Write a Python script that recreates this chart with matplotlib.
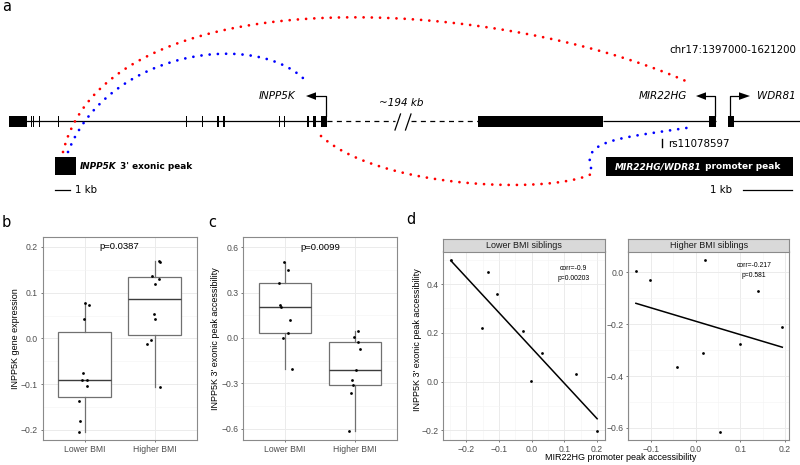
import numpy as np
import matplotlib
matplotlib.use("Agg")
import matplotlib.pyplot as plt
from matplotlib.patches import Rectangle, Polygon
from matplotlib.ticker import FuncFormatter, FixedLocator

# ---------------- data ----------------
groups = ["Lower BMI", "Higher BMI"]

# panel b: INPP5K gene expression
expr_lower = [0.0765, 0.072, 0.043, -0.0765, -0.091, -0.091, -0.103, -0.137, -0.180, -0.204]
expr_lower_jit = [0.007, 0.055, -0.007, -0.031, -0.045, 0.031, 0.026, -0.088, -0.064, -0.088]
expr_higher = [0.170, 0.166, 0.137, 0.129, 0.120, 0.054, 0.043, -0.003, -0.0125, -0.106]
expr_higher_jit = [0.064, 0.079, -0.040, 0.055, -0.002, -0.017, -0.002, -0.050, -0.112, 0.079]
p_expr = "p=0.0387"

# panel c: INPP5K 3' exonic peak accessibility
acc_lower = [0.499, 0.448, 0.360, 0.218, 0.207, 0.119, 0.031, 0.002, -0.205]
acc_lower_jit = [-0.019, 0.048, -0.091, -0.067, -0.057, 0.067, 0.043, -0.029, 0.096]
acc_higher = [0.0485, 0.0066, -0.029, -0.073, -0.210, -0.276, -0.311, -0.364, -0.615]
acc_higher_jit = [0.043, -0.019, 0.048, 0.077, 0.014, -0.043, -0.024, -0.062, -0.086]
p_acc = "p=0.0099"

# panel d: MIR22HG promoter accessibility (paired with acc_lower / acc_higher)
prom_lower = [-0.247, -0.133, -0.106, -0.153, -0.027, 0.032, 0.134, -0.002, 0.200]
prom_higher = [0.021, -0.134, -0.102, 0.139, 0.194, 0.100, 0.017, -0.042, 0.054]
facet_titles = ["Lower BMI siblings", "Higher BMI siblings"]
corr_labels = [("corr=-0.9", "p=0.00203"), ("corr=-0.217", "p=0.581")]

# panel a: schematic gene model (pixel layout units)
left_exons = [(9, 27), (30.5, 31.7), (33, 34.2), (38.8, 40), (57.5, 59), (185.5, 186.7),
              (201.5, 202.7), (217, 219.2), (223, 225), (278.5, 279.7), (283.5, 284.7),
              (306.5, 309), (313, 316), (321, 327)]
right_exons = [(478, 603), (709, 716), (728, 734)]
solid_segments = [(9, 327), (603, 716), (728, 800)]
dashed_segments = [(327, 395), (411, 478)]
red_top = [(63, 152), (108, -28), (500, -2), (688, 82)]
blue_top = [(68, 152), (108, 50), (255, 30), (305, 80)]
red_bottom = [(321, 136), (380, 190), (560, 195), (595, 172)]
blue_bottom = [(591, 168), (582, 140), (620, 138), (693, 127)]

# ---------------- figure ----------------
W, H = 800, 465
fig = plt.figure(figsize=(8, 4.65), dpi=100)

def rect(l, t, r, b):
    return [l / W, 1 - b / H, (r - l) / W, (b - t) / H]

axa = fig.add_axes([0, 0, 1, 1])
axa.set_xlim(0, W)
axa.set_ylim(H, 0)
axa.axis("off")

FA = "DejaVu Sans"
FB = "Liberation Sans"
MINUS = "\u2212"

# gene line
LY = 121
for a, b in solid_segments:
    axa.plot([a, b], [LY, LY], color="black", lw=0.9, solid_capstyle="butt", zorder=2)
for a, b in dashed_segments:
    axa.plot([a, b], [LY, LY], color="black", lw=0.9, dashes=(4, 3.5), zorder=2)
axa.plot([395, 400.5], [130, 114], color="black", lw=0.9, zorder=2)
axa.plot([405.5, 411], [130, 114], color="black", lw=0.9, zorder=2)
for a, b in left_exons + right_exons:
    axa.add_patch(Rectangle((a, 116), b - a, 10.5, color="black", lw=0, zorder=3))

# TSS arrows
axa.plot([326, 326, 315], [116, 96, 96], color="black", lw=0.9, zorder=3)
axa.add_patch(Polygon([(306, 96), (316, 92.3), (316, 99.9)], closed=True, color="black", lw=0))
axa.plot([715, 715, 705], [116, 96, 96], color="black", lw=0.9, zorder=3)
axa.add_patch(Polygon([(696, 96), (706, 92.3), (706, 99.9)], closed=True, color="black", lw=0))
axa.plot([730, 730, 740], [116, 96, 96], color="black", lw=0.9, zorder=3)
axa.add_patch(Polygon([(750, 96), (739, 92.3), (739, 99.9)], closed=True, color="black", lw=0))

axa.text(295, 96, "INPP5K", family=FA, style="italic", fontsize=7.5, ha="right", va="center")
axa.text(687, 96, "MIR22HG", family=FA, style="italic", fontsize=7.5, ha="right", va="center")
axa.text(757, 96, "WDR81", family=FA, style="italic", fontsize=7.5, ha="left", va="center")
axa.text(401, 103, "~194 kb", family=FA, style="italic", fontsize=7.5, ha="center", va="center")
axa.text(669, 50, "chr17:1397000-1621200", family=FA, fontsize=7.4, ha="left", va="center")

# SNP
axa.plot([662, 662], [139.5, 147], color="black", lw=1.0)
axa.text(668, 143.5, "rs11078597", family=FA, fontsize=7.4, ha="left", va="center")

# peaks
axa.add_patch(Rectangle((55, 157.3), 20.7, 17.7, color="black", lw=0))
t1 = axa.text(80, 166.5, "INPP5K", family=FA, weight="bold", style="italic", fontsize=6.4,
              ha="left", va="center")
axa.annotate(" 3' exonic peak", xy=(1, 0), xycoords=t1, family=FA, weight="bold",
             fontsize=6.4, ha="left", va="bottom")
axa.add_patch(Rectangle((606, 157.3), 187, 18.7, color="black", lw=0))
t2 = axa.text(615, 166.8, "MIR22HG/WDR81", family=FA, weight="bold", style="italic",
              fontsize=6.5, ha="left", va="center", color="white")
axa.annotate(" promoter peak", xy=(1, 0), xycoords=t2, family=FA, weight="bold",
             fontsize=6.5, ha="left", va="bottom", color="white")

# scale bars
axa.plot([55, 69.5], [190, 190], color="black", lw=0.9)
axa.text(75, 190, "1 kb", family=FA, fontsize=7.4, ha="left", va="center")
axa.plot([742.7, 791.7], [190, 190], color="black", lw=0.9)
axa.text(732, 190, "1 kb", family=FA, fontsize=7.4, ha="right", va="center")

# arcs
def bezier(p, n=600):
    t = np.linspace(0, 1, n)[:, None]
    p = np.asarray(p, float)
    return (1 - t) ** 3 * p[0] + 3 * (1 - t) ** 2 * t * p[1] + 3 * (1 - t) * t ** 2 * p[2] + t ** 3 * p[3]

for pts, col in [(red_top, "#ff0000"), (blue_top, "#0000ff"), (red_bottom, "#ff0000"), (blue_bottom, "#0000ff")]:
    c = bezier(pts)
    ln, = axa.plot(c[:, 0], c[:, 1], color=col, lw=2.0, zorder=5)
    ln.set_dashes((0.01, 2.95))
    ln.set_dash_capstyle("round")

# panel letters
axa.text(2, 11, "a", family=FA, fontsize=10.5, ha="left", va="baseline")
axa.text(2, 227, "b", family=FA, fontsize=10.5, ha="left", va="baseline")
axa.text(208, 227, "c", family=FA, fontsize=10.5, ha="left", va="baseline")
axa.text(406, 224, "d", family=FA, fontsize=10.5, ha="left", va="baseline")

# ---------------- ggplot-like axes ----------------
TICKFS = 6.2
TITLEFS = 6.5
GRID_MAJ = "#EBEBEB"
GRID_MIN = "#F3F3F3"
SPINE = "#8a8a8a"

def fmt1(v, pos=None):
    s = f"{v:.1f}"
    if s == "-0.0":
        s = "0.0"
    return s.replace("-", MINUS)

def style_axes(ax, xmaj, xmin, ymaj, ymin):
    ax.set_facecolor("white")
    for s in ax.spines.values():
        s.set_color(SPINE)
        s.set_linewidth(0.8)
    ax.xaxis.set_major_locator(FixedLocator(xmaj))
    ax.yaxis.set_major_locator(FixedLocator(ymaj))
    ax.xaxis.set_minor_locator(FixedLocator(xmin))
    ax.yaxis.set_minor_locator(FixedLocator(ymin))
    ax.grid(True, which="major", color=GRID_MAJ, lw=0.7, zorder=0)
    ax.grid(True, which="minor", color=GRID_MIN, lw=0.4, zorder=0)
    ax.set_axisbelow(True)
    ax.tick_params(which="major", length=1.6, width=0.5, color="#444444", pad=1.8,
                   labelsize=TICKFS, labelcolor="#4D4D4D")
    ax.tick_params(which="minor", length=0)
    for lab in ax.get_xticklabels() + ax.get_yticklabels():
        lab.set_family(FB)

def box_panel(ax, lower, lower_j, higher, higher_j, ylim, yt, ymn, ptxt, ptxt_y):
    ax.boxplot([lower, higher], positions=[1, 2], widths=0.75, whis=1.5,
               showfliers=False, showcaps=False, patch_artist=True, zorder=2,
               boxprops=dict(facecolor="white", edgecolor="#707070", lw=0.9),
               medianprops=dict(color="#3c3c3c", lw=1.0),
               whiskerprops=dict(color="#707070", lw=0.9))
    ax.scatter(1 + np.asarray(lower_j), lower, s=4, color="black", lw=0, zorder=4)
    ax.scatter(2 + np.asarray(higher_j), higher, s=4, color="black", lw=0, zorder=4)
    ax.set_xlim(0.4, 2.6)
    ax.set_ylim(*ylim)
    style_axes(ax, [1, 2], [], yt, ymn)
    ax.set_xticks([1, 2])
    ax.set_xticklabels(groups, family=FB)
    ax.yaxis.set_major_formatter(FuncFormatter(fmt1))
    for lab in ax.get_yticklabels():
        lab.set_family(FB)
    ax.text(1.5, ptxt_y, ptxt, family=FB, fontsize=6.8, ha="center", va="center", color="black")

axb = fig.add_axes(rect(42.7, 237.3, 196.7, 440))
box_panel(axb, expr_lower, expr_lower_jit, expr_higher, expr_higher_jit,
          (-0.222, 0.221), [-0.2, -0.1, 0.0, 0.1, 0.2], [-0.15, -0.05, 0.05, 0.15], p_expr, 0.2)

axc = fig.add_axes(rect(243.3, 237.3, 396.7, 440))
box_panel(axc, acc_lower, acc_lower_jit, acc_higher, acc_higher_jit,
          (-0.674, 0.665), [-0.6, -0.3, 0.0, 0.3, 0.6], [-0.45, -0.15, 0.15, 0.45], p_acc, 0.6)

# facets
def facet(ax_rect, strip_rect, xs, ys, xlim, ylim, xt, xmn, yt, ymn, title, labels, lab_x, lab_y):
    ax = fig.add_axes(rect(*ax_rect))
    ax.scatter(xs, ys, s=4, color="black", lw=0, zorder=4)
    slope, icpt = np.polyfit(xs, ys, 1)
    xx = np.array([min(xs), max(xs)])
    ax.plot(xx, slope * xx + icpt, color="black", lw=1.1, zorder=3)
    ax.set_xlim(*xlim)
    ax.set_ylim(*ylim)
    style_axes(ax, xt, xmn, yt, ymn)
    ax.xaxis.set_major_formatter(FuncFormatter(fmt1))
    ax.yaxis.set_major_formatter(FuncFormatter(fmt1))
    for lab in ax.get_xticklabels() + ax.get_yticklabels():
        lab.set_family(FB)
    ax.text(lab_x, lab_y[0], labels[0], family=FB, fontsize=4.9, ha="center", va="center")
    ax.text(lab_x, lab_y[1], labels[1], family=FB, fontsize=4.9, ha="center", va="center")
    st = fig.add_axes(rect(*strip_rect))
    st.set_facecolor("#D9D9D9")
    st.set_xticks([])
    st.set_yticks([])
    for s in st.spines.values():
        s.set_color(SPINE)
        s.set_linewidth(0.8)
    st.text(0.5, 0.47, title, transform=st.transAxes, family=FB, fontsize=6.5,
            color="#1A1A1A", ha="center", va="center")
    return ax

facet((443.3, 251.5, 605, 440), (443.3, 238.5, 605, 251.5), prom_lower, acc_lower,
      (-0.270, 0.224), (-0.240, 0.534), [-0.2, -0.1, 0.0, 0.1, 0.2], [-0.25, -0.15, -0.05, 0.05, 0.15],
      [-0.2, 0.0, 0.2, 0.4], [-0.1, 0.1, 0.3, 0.5], facet_titles[0], corr_labels[0], 0.127, (0.466, 0.425))

facet((628.3, 251.5, 789, 440), (628.3, 238.5, 789, 251.5), prom_higher, acc_higher,
      (-0.151, 0.209), (-0.647, 0.081), [-0.1, 0.0, 0.1, 0.2], [-0.15, -0.05, 0.05, 0.15],
      [-0.6, -0.4, -0.2, 0.0], [-0.5, -0.3, -0.1], facet_titles[1], corr_labels[1], 0.130, (0.028, -0.010))

# axis titles
axa.text(15.5, 338.5, "INPP5K gene expression", family=FB, fontsize=TITLEFS, rotation=90,
         ha="center", va="center")
axa.text(216, 338.5, "INPP5K 3' exonic peak accessibility", family=FB, fontsize=TITLEFS,
         rotation=90, ha="center", va="center")
axa.text(417.5, 339.5, "INPP5K 3' exonic peak accessibility", family=FB, fontsize=TITLEFS,
         rotation=90, ha="center", va="center")
axa.text(621, 457.5, "MIR22HG promoter peak accessibility", family=FB, fontsize=TITLEFS,
         ha="center", va="center")

fig.savefig("out.png", dpi=100)
